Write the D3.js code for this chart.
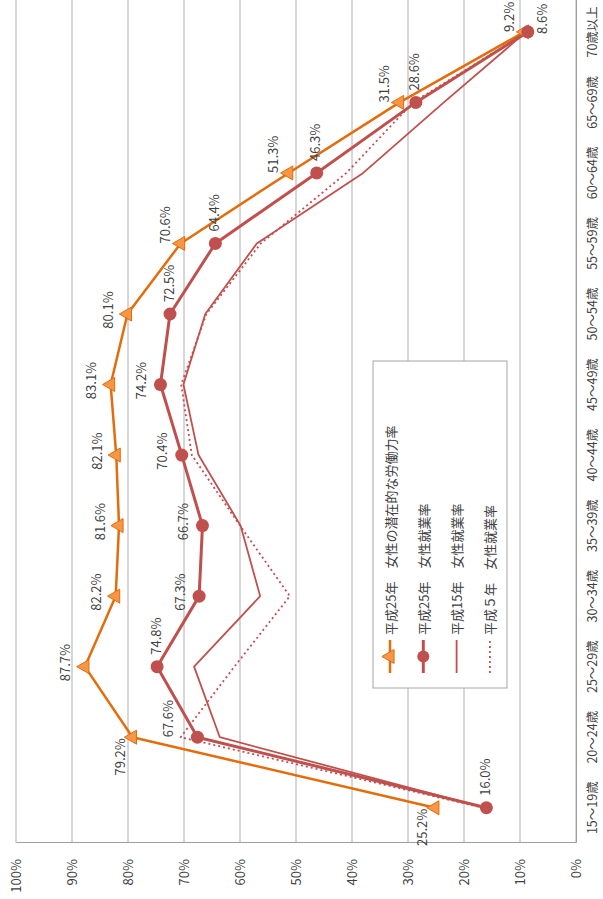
<!DOCTYPE html>
<html>
<head>
<meta charset="utf-8">
<script src="https://cdn.jsdelivr.net/npm/d3@7"></script>
<style>
  body { margin: 0; background: #fff; }
  text { font-family: "Noto Sans CJK JP", "Noto Sans", sans-serif; fill: #404040; }
</style>
</head>
<body>
<div id="chart"></div>
<script>
const categories = ["15〜19歳", "20〜24歳", "25〜29歳", "30〜34歳", "35〜39歳", "40〜44歳",
    "45〜49歳", "50〜54歳", "55〜59歳", "60〜64歳", "65〜69歳", "70歳以上"];
const valueTicks = [0, 10, 20, 30, 40, 50, 60, 70, 80, 90, 100];

const potential25 = [25.2, 79.2, 87.7, 82.2, 81.6, 82.1, 83.1, 80.1, 70.6, 51.3, 31.5, 9.2];
const employment25 = [16.0, 67.6, 74.8, 67.3, 66.7, 70.4, 74.2, 72.5, 64.4, 46.3, 28.6, 8.6];
const employment15 = [16.4, 63.6, 68.2, 56.4, 59.9, 67.4, 70.1, 66.2, 57.0, 38.0, 23.6, 8.9];
const employment5 = [16.6, 70.6, 61.0, 51.1, 60.0, 68.6, 70.5, 66.0, 56.3, 41.0, 29.1, 8.7];

// where each data label goes (codes, see labelOffset)
const potential25Pos = ["ul", "ul", "u", "u", "u", "u", "u", "u", "ur", "ur", "ur", "ur"];
const employment25Pos = ["r", "uu", "r", "u", "u", "u", "u", "r", "r", "r", "r", "br"];

const legendNames = ["平成25年　女性の潜在的な労働力率", "平成25年　女性就業率",
    "平成15年　女性就業率", "平成５年　女性就業率"];

// the chart is drawn normally in a 899x603 box, then turned on its side
var W = 899, H = 603;
var orange = "#e46c0a", red = "#c0504d";

var labelOffset = {
    ul: { anchor: "end", dx: -1, dy: -13 },
    u: { anchor: "middle", dx: 4, dy: -20 },
    ur: { anchor: "start", dx: 0, dy: -16 },
    uu: { anchor: "start", dx: 0, dy: -30 },
    r: { anchor: "start", dx: 12, dy: -2 },
    br: { anchor: "start", dx: -2, dy: 14 }
};

var svg = d3.select("#chart")
    .append("svg")
    .attr("width", 603)
    .attr("height", 899);

var g = svg.append("g")
    .attr("transform", "translate(0," + W + ") rotate(-90)");

var x = d3.scaleBand()
    .domain(categories)
    .range([56, 902.4]);
var y = d3.scaleLinear()
    .domain([0, 100])
    .range([576, 16]);

function cx(i) { return x(categories[i]) + x.bandwidth() / 2; }

// gridlines
g.append("g")
    .selectAll("line")
    .data(valueTicks)
    .join("line")
    .attr("x1", 56)
    .attr("x2", 902.4)
    .attr("y1", d => y(d))
    .attr("y2", d => y(d))
    .attr("stroke", "#aeaeae")
    .attr("stroke-width", 1);

// axes
var yAxis = g.append("g")
    .attr("transform", "translate(56,0)")
    .call(d3.axisLeft(y).tickValues(valueTicks).tickSize(0).tickPadding(16).tickFormat(d => d + "%"));
yAxis.select(".domain").attr("stroke", "#a0a0a0");
yAxis.selectAll("text").style("font-size", "13px").attr("fill", "#404040");

var xAxis = g.append("g")
    .attr("transform", "translate(0,576)")
    .call(d3.axisBottom(x).tickSize(0).tickPadding(12));
xAxis.select(".domain").attr("stroke", "#a0a0a0");
xAxis.selectAll("text").style("font-size", "12.5px").attr("fill", "#404040");

function drawLine(values, color, width, dash) {
    var line = d3.line()
        .x((d, i) => cx(i))
        .y(d => y(d));
    g.append("path")
        .datum(values)
        .attr("d", line)
        .attr("fill", "none")
        .attr("stroke", color)
        .attr("stroke-width", width)
        .attr("stroke-dasharray", dash || null)
        .attr("stroke-linejoin", "round");
}

function drawLabels(values, positions) {
    g.append("g")
        .selectAll("text")
        .data(values)
        .join("text")
        .attr("x", (d, i) => cx(i) + labelOffset[positions[i]].dx)
        .attr("y", (d, i) => y(d) + labelOffset[positions[i]].dy)
        .attr("text-anchor", (d, i) => labelOffset[positions[i]].anchor)
        .attr("dominant-baseline", "central")
        .style("font-size", "13px")
        .text(d => d.toFixed(1) + "%");
}

var triangle = d3.symbol().type(d3.symbolTriangle).size(85);

drawLine(employment5, red, 1.8, "2,3");
drawLine(employment15, red, 1.8);
drawLine(potential25, orange, 2.5);
drawLine(employment25, red, 3);

g.append("g")
    .selectAll("path")
    .data(potential25)
    .join("path")
    .attr("d", triangle)
    .attr("transform", (d, i) => "translate(" + cx(i) + "," + y(d) + ")")
    .attr("fill", "#f79646")
    .attr("stroke", orange)
    .attr("stroke-width", 1);

g.append("g")
    .selectAll("circle")
    .data(employment25)
    .join("circle")
    .attr("cx", (d, i) => cx(i))
    .attr("cy", d => y(d))
    .attr("r", 6.5)
    .attr("fill", red);

drawLabels(potential25, potential25Pos);
drawLabels(employment25, employment25Pos);

// legend
var legend = g.append("g");
legend.append("rect")
    .attr("x", 211)
    .attr("y", 373)
    .attr("width", 327)
    .attr("height", 134)
    .attr("fill", "#fff")
    .attr("stroke", "#a6a6a6");

var legendStyles = [
    { color: orange, width: 2.5, dash: null, marker: "triangle" },
    { color: red, width: 3, dash: null, marker: "circle" },
    { color: red, width: 1.8, dash: null, marker: null },
    { color: red, width: 1.8, dash: "2,3", marker: null }
];

legendNames.forEach(function(name, i) {
    var ly = 390 + i * 33.3;
    var st = legendStyles[i];
    legend.append("line")
        .attr("x1", 226)
        .attr("x2", 259)
        .attr("y1", ly)
        .attr("y2", ly)
        .attr("stroke", st.color)
        .attr("stroke-width", st.width)
        .attr("stroke-dasharray", st.dash);
    if (st.marker === "triangle") {
        legend.append("path")
            .attr("d", triangle)
            .attr("transform", "translate(242.5," + ly + ")")
            .attr("fill", "#f79646")
            .attr("stroke", orange);
    } else if (st.marker === "circle") {
        legend.append("circle")
            .attr("cx", 242.5)
            .attr("cy", ly)
            .attr("r", 6)
            .attr("fill", red);
    }
    legend.append("text")
        .attr("x", 264)
        .attr("y", ly)
        .attr("dominant-baseline", "central")
        .style("font-size", "13px")
        .text(name);
});
</script>
</body>
</html>
